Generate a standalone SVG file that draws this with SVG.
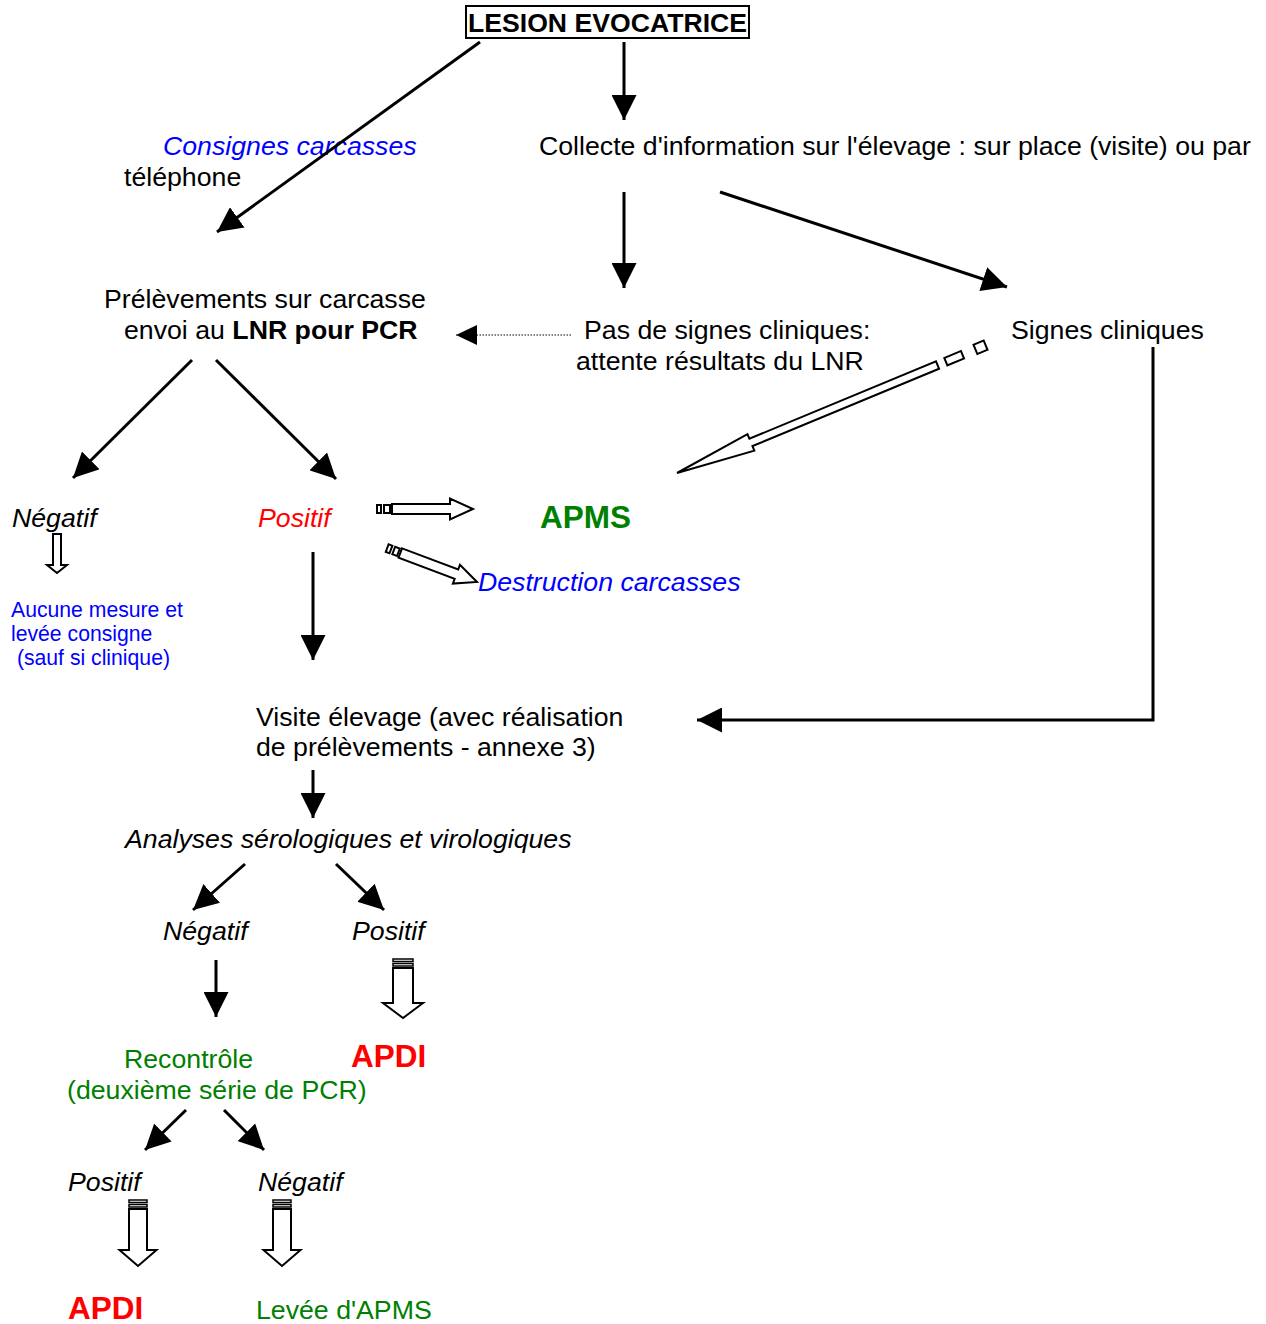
<svg xmlns="http://www.w3.org/2000/svg" width="1266" height="1324" viewBox="0 0 1266 1324">
<style>
text{font-family:"Liberation Sans",Arial,sans-serif;font-size:26.7px;fill:#000}
.it{font-style:italic}
.b{font-weight:bold}
.blue{fill:#0000ff}
.green{fill:#008000}
.red{fill:#ff0000}
.sm{font-size:21.2px}
.big{font-size:31.5px;font-weight:bold}
.ln{stroke:#000;stroke-width:3;fill:none}
.ho{fill:#fff;stroke:#000;stroke-width:2;stroke-linejoin:miter}
.st{fill:#fff;stroke:#000;stroke-width:1.5}
</style>
<defs>
<marker id="ah" markerUnits="userSpaceOnUse" markerWidth="25" markerHeight="25" refX="25" refY="12.5" orient="auto"><path d="M0,0 L25,12.5 L0,25 z" fill="#000"/></marker>
<marker id="ahs" markerUnits="userSpaceOnUse" markerWidth="21" markerHeight="20" refX="21" refY="10" orient="auto"><path d="M0,0 L21,10 L0,20 z" fill="#000"/></marker>
</defs>
<g id="n-lesion"><rect x="466" y="6" width="283" height="32" fill="#fff" stroke="#000" stroke-width="2"/><text x="607.5" y="31.5" text-anchor="middle" class="b" textLength="279" lengthAdjust="spacingAndGlyphs">LESION EVOCATRICE</text></g>
<g id="n-consignes"><text x="163" y="155" class="it blue">Consignes carcasses</text></g>
<g id="n-collecte"><text x="539" y="155">Collecte d'information sur l'élevage : sur place (visite) ou par</text><text x="124" y="186">téléphone</text></g>
<g id="n-prelev"><text x="104" y="308">Prélèvements sur carcasse</text><text x="124" y="339">envoi au <tspan class="b">LNR pour PCR</tspan></text></g>
<g id="n-pas"><text x="584" y="339">Pas de signes cliniques:</text><text x="576" y="370">attente résultats du LNR</text></g>
<g id="n-signes"><text x="1011" y="339">Signes cliniques</text></g>
<g id="n-neg1"><text x="12" y="527" class="it">Négatif</text></g>
<g id="n-pos1"><text x="258" y="527" class="it red">Positif</text></g>
<g id="n-apms"><text x="540" y="528" class="big green">APMS</text></g>
<g id="n-destr"><text x="478" y="591" class="it blue">Destruction carcasses</text></g>
<g id="n-aucune"><text x="11" y="617" class="sm blue">Aucune mesure et</text><text x="11" y="641" class="sm blue">levée consigne</text><text x="11" y="665" class="sm blue" xml:space="preserve"> (sauf si clinique)</text></g>
<g id="n-visite"><text x="256" y="726">Visite élevage (avec réalisation</text><text x="256" y="756">de prélèvements - annexe 3)</text></g>
<g id="n-analyses"><text x="125" y="848" class="it">Analyses sérologiques et virologiques</text></g>
<g id="n-neg2"><text x="163" y="940" class="it">Négatif</text></g>
<g id="n-pos2"><text x="352" y="940" class="it">Positif</text></g>
<g id="n-recontrole"><text x="124" y="1068" class="green">Recontrôle</text><text x="67" y="1099" class="green">(deuxième série de PCR)</text></g>
<g id="n-apdi1"><text x="351" y="1067" class="big red">APDI</text></g>
<g id="n-pos3"><text x="68" y="1191" class="it">Positif</text></g>
<g id="n-neg3"><text x="258" y="1191" class="it">Négatif</text></g>
<g id="n-apdi2"><text x="68" y="1319" class="big red">APDI</text></g>
<g id="n-levee"><text x="256" y="1319" class="green">Levée d'APMS</text></g>
<g id="connectors">
<line class="ln" x1="624" y1="42" x2="624" y2="120" marker-end="url(#ah)"/>
<line class="ln" x1="480" y1="42" x2="217" y2="232" marker-end="url(#ah)"/>
<line class="ln" x1="624" y1="192" x2="624" y2="288" marker-end="url(#ah)"/>
<line class="ln" x1="720" y1="192" x2="1007" y2="287" marker-end="url(#ah)"/>
<line x1="571" y1="335" x2="456" y2="335" stroke="#000" stroke-width="1" stroke-dasharray="1.5,1.5" marker-end="url(#ahs)"/>
<line class="ln" x1="192" y1="360" x2="73" y2="478" marker-end="url(#ah)"/>
<line class="ln" x1="216" y1="360" x2="336" y2="479" marker-end="url(#ah)"/>
<line class="ln" x1="313" y1="552" x2="313" y2="660" marker-end="url(#ah)"/>
<polyline class="ln" points="1153,347 1153,720 697,720" marker-end="url(#ah)"/>
<line class="ln" x1="313" y1="770" x2="313" y2="818" marker-end="url(#ah)"/>
<line class="ln" x1="245" y1="864" x2="193" y2="910" marker-end="url(#ah)"/>
<line class="ln" x1="336" y1="864" x2="384" y2="910" marker-end="url(#ah)"/>
<line class="ln" x1="216" y1="960" x2="216" y2="1017" marker-end="url(#ah)"/>
<line class="ln" x1="186" y1="1110" x2="145" y2="1150" marker-end="url(#ah)"/>
<line class="ln" x1="224" y1="1110" x2="264" y2="1150" marker-end="url(#ah)"/>
<g transform="translate(677,473) rotate(157.5)"><polygon class="ho" points="-282,-4 -80,-4 -80,-9 0,0 -80,9 -80,4 -282,4"/><rect class="ho" x="-309" y="-4" width="18" height="8"/><rect class="ho" x="-334" y="-5" width="11" height="10"/></g>
<g transform="translate(473,509)"><polygon class="ho" points="-81,-5 -23,-5 -23,-10.5 0,0 -23,10.5 -23,5 -81,5"/><rect class="ho" x="-89" y="-4" width="6" height="8"/><rect class="ho" x="-96" y="-4" width="4" height="8"/></g>
<g transform="translate(477,582) rotate(20.7)"><polygon class="ho" points="-82,-5 -22,-5 -22,-10 0,0 -22,10 -22,5 -82,5"/><rect class="ho" x="-89" y="-4" width="5" height="8"/><rect class="ho" x="-96" y="-4" width="4" height="8"/></g>
<g transform="translate(57,573) rotate(90)"><polygon class="ho" points="-39,-4 -8,-4 -8,-10 0,0 -8,10 -8,4 -39,4"/></g>
<g transform="translate(403,1018) rotate(90)"><polygon class="ho" points="-50,-10 -15,-10 -15,-20 0,0 -15,20 -15,10 -50,10"/><rect class="st" x="-54.5" y="-10" width="2.5" height="20"/><rect class="st" x="-59" y="-10" width="2.5" height="20"/></g>
<g transform="translate(138,1266) rotate(90)"><polygon class="ho" points="-57,-9 -16,-9 -16,-18.5 0,0 -16,18.5 -16,9 -57,9"/><rect class="st" x="-61.5" y="-9" width="2.5" height="18"/><rect class="st" x="-66" y="-9" width="2.5" height="18"/></g>
<g transform="translate(282,1266) rotate(90)"><polygon class="ho" points="-57,-9 -16,-9 -16,-18.5 0,0 -16,18.5 -16,9 -57,9"/><rect class="st" x="-61.5" y="-9" width="2.5" height="18"/><rect class="st" x="-66" y="-9" width="2.5" height="18"/></g>
</g>
</svg>
